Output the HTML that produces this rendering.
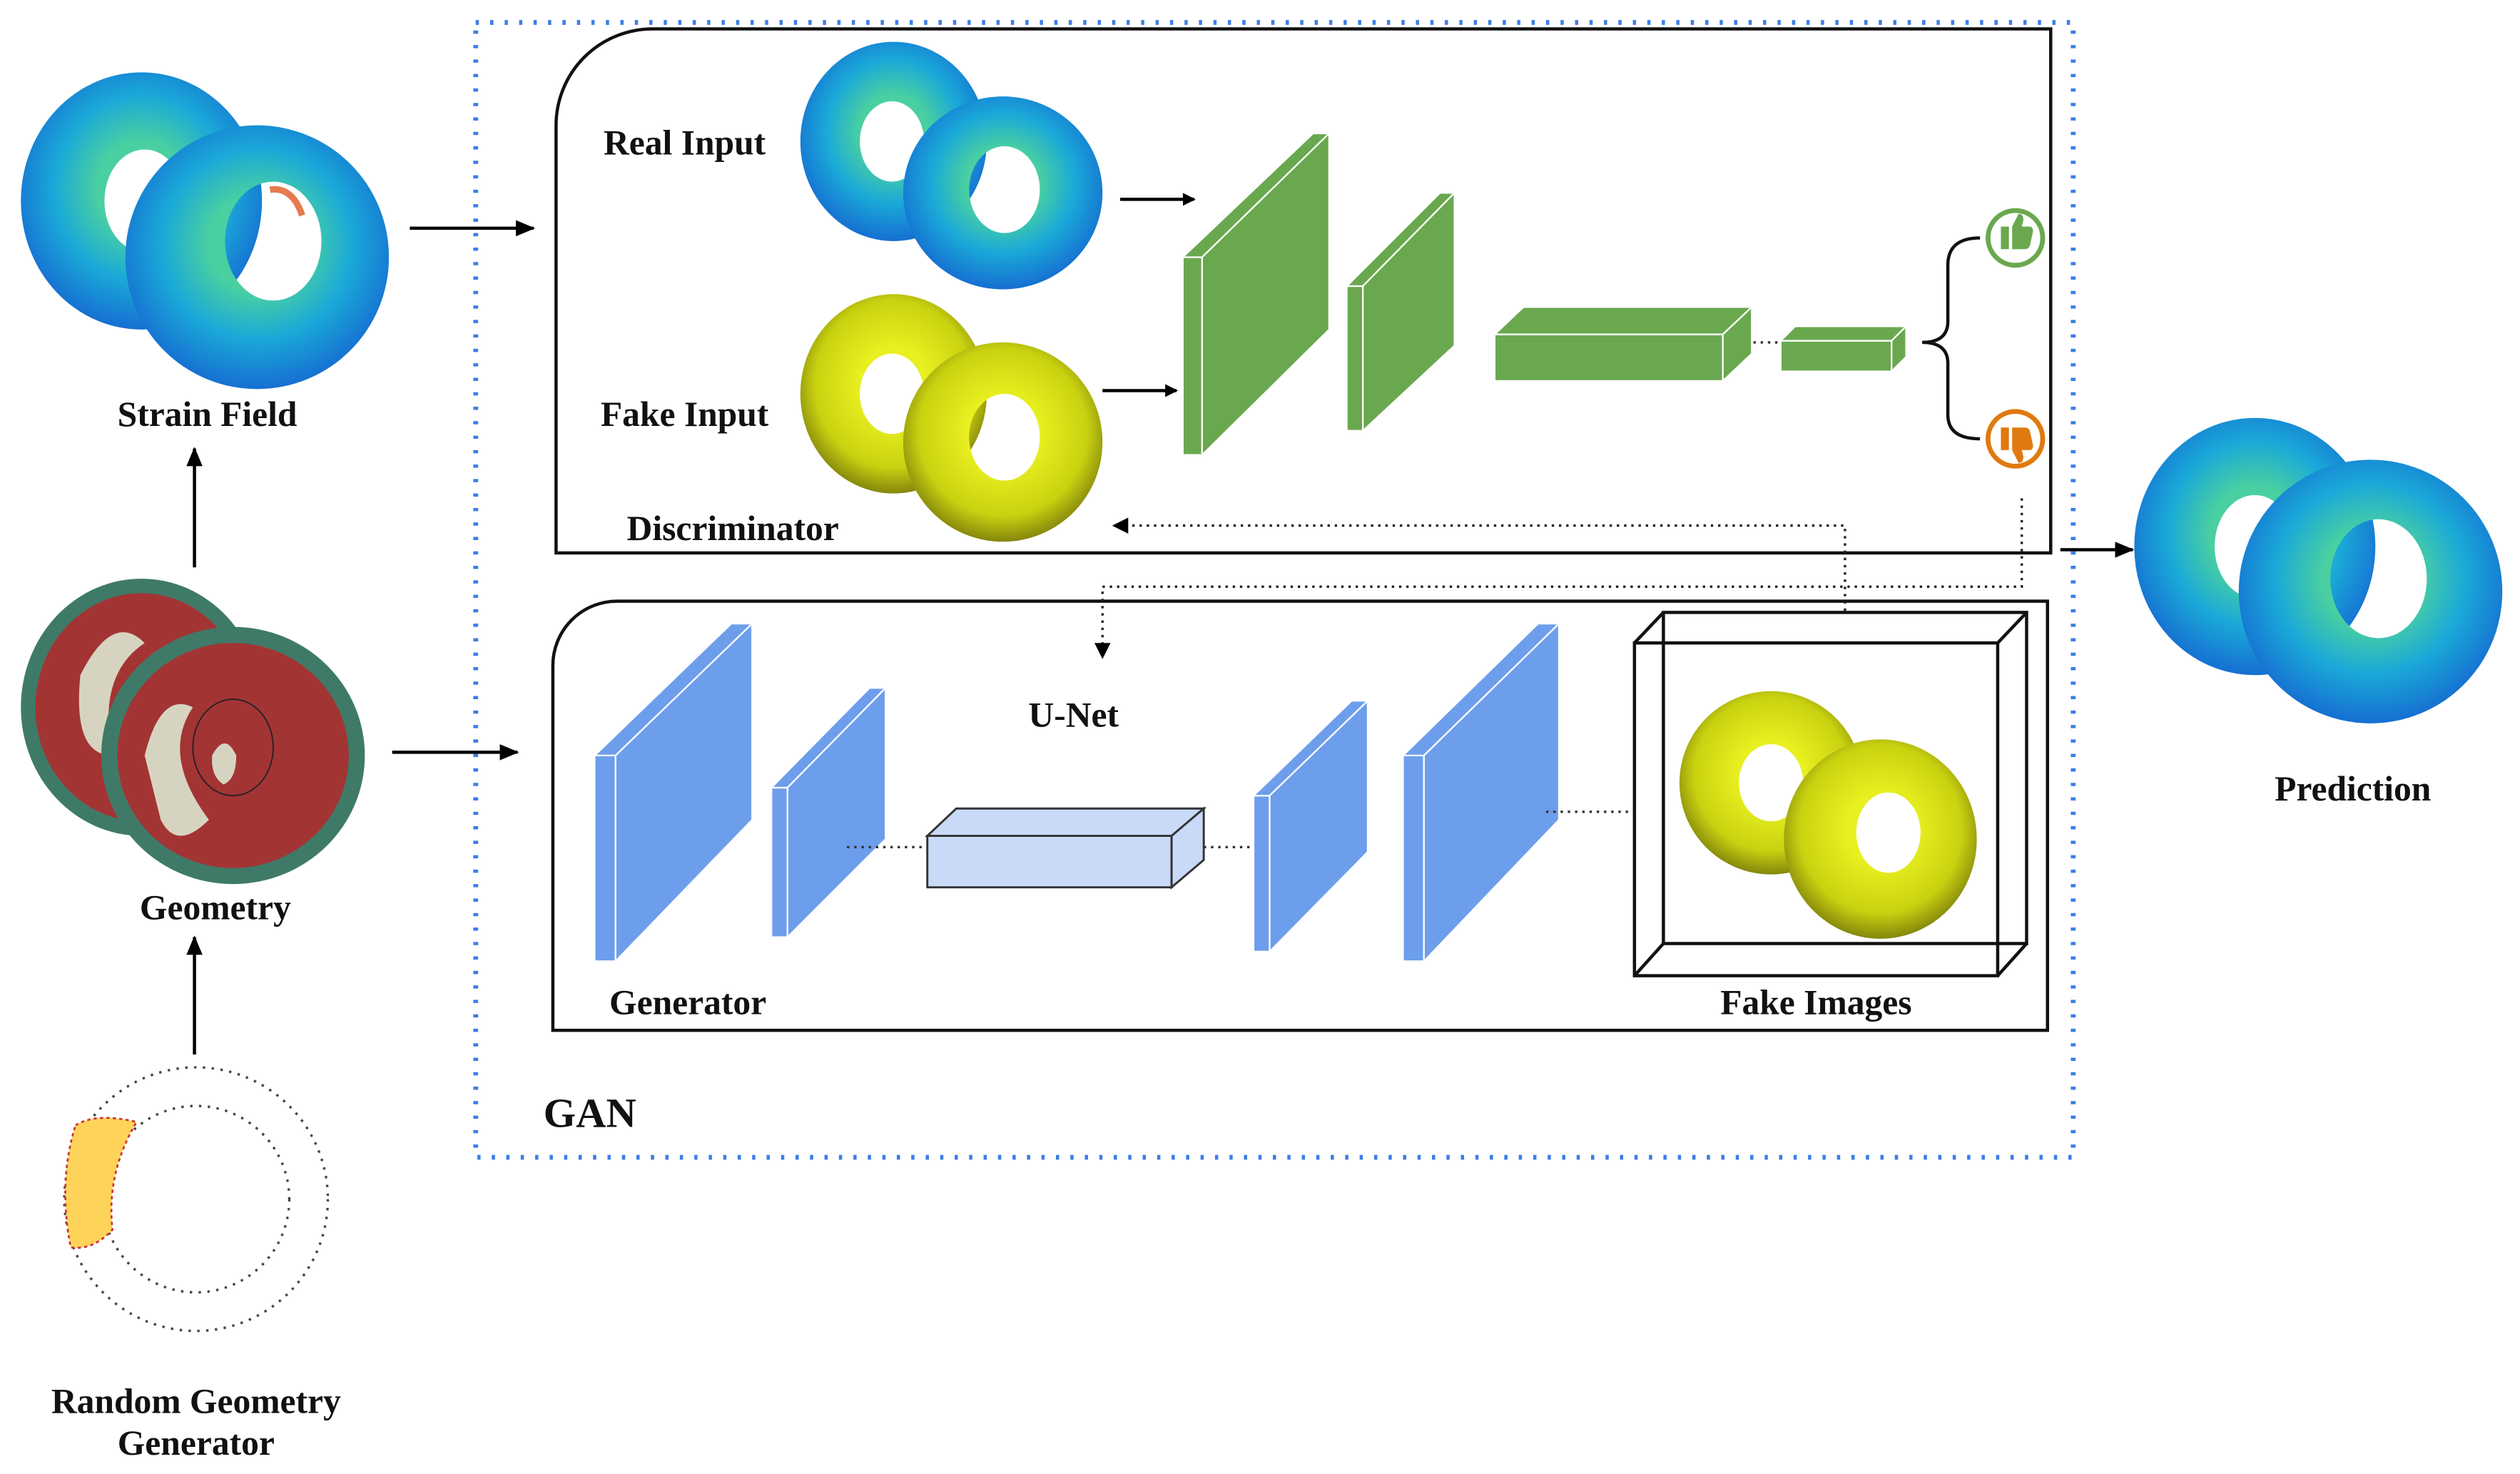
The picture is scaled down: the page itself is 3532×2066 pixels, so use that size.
<!DOCTYPE html>
<html><head><meta charset="utf-8"><style>html,body{margin:0;padding:0;background:#fff}svg{display:block}text{font-family:"Liberation Serif",serif;font-weight:bold;fill:#111}</style></head>
<body>
<svg width="3532" height="2066" viewBox="0 0 1568 917" preserveAspectRatio="none" xmlns="http://www.w3.org/2000/svg">
<defs>
<radialGradient id="bl" cx="0.5" cy="0.45" r="0.6"><stop offset="0.3" stop-color="#4ad0a0"/><stop offset="0.6" stop-color="#1aa9d8"/><stop offset="1" stop-color="#1560d0"/></radialGradient>
<radialGradient id="yl" cx="0.5" cy="0.45" r="0.6"><stop offset="0.3" stop-color="#e8f020"/><stop offset="0.7" stop-color="#c9d210"/><stop offset="1" stop-color="#6a6a0a"/></radialGradient>
<marker id="ah" markerWidth="8" markerHeight="8" refX="7" refY="4" orient="auto" markerUnits="userSpaceOnUse"><path d="M0,0 L8,4 L0,8 z" fill="#000"/></marker>
<marker id="ah2" markerWidth="12" markerHeight="12" refX="11" refY="6" orient="auto" markerUnits="userSpaceOnUse"><path d="M0,1 L12,6 L0,11 z" fill="#000"/></marker>
</defs>
<rect x="296" y="14" width="994" height="706" fill="none" stroke="#3b7de8" stroke-width="3" stroke-dasharray="2,7"/>
<path d="M406,18 H1276 V344 H346 V78 A60,60 0 0 1 406,18 Z" fill="none" stroke="#111" stroke-width="2"/>
<path d="M384,374 H1274 V641 H344 V414 A40,40 0 0 1 384,374 Z" fill="none" stroke="#111" stroke-width="2"/>

<g>
<path d="M13,125 a75,80 0 1,0 150,0 a75,80 0 1,0 -150,0 Z M65,125 a25,32 0 1,0 50,0 a25,32 0 1,0 -50,0 Z" fill="url(#bl)" fill-rule="evenodd"/>
<path d="M78,160 a82,82 0 1,0 164,0 a82,82 0 1,0 -164,0 Z M140,150 a30,37 0 1,0 60,0 a30,37 0 1,0 -60,0 Z" fill="url(#bl)" fill-rule="evenodd"/>
<path d="M168,118 q14,-2 20,16" stroke="#e05a20" stroke-width="4" fill="none" opacity="0.8"/>
</g>
<text x="129" y="265" font-size="22" text-anchor="middle">Strain Field</text>
<line x1="121" y1="353" x2="121" y2="279" stroke="#000" stroke-width="2" marker-end="url(#ah2)"/>

<g>
<path d="M13,440 a75,80 0 1,0 150,0 a75,80 0 1,0 -150,0 Z" fill="#3f7a68"/>
<path d="M22,440 a66,71 0 1,0 132,0 a66,71 0 1,0 -132,0 Z" fill="#a33434"/>
<path d="M50,420 q20,-40 40,-20 q-30,20 -20,70 q-25,0 -20,-50 Z" fill="#d6d4c0"/>
<path d="M63,470 a82,80 0 1,0 164,0 a82,80 0 1,0 -164,0 Z" fill="#3f7a68"/>
<path d="M73,470 a72,70 0 1,0 144,0 a72,70 0 1,0 -144,0 Z" fill="#a33434"/>
<path d="M90,470 q10,-40 30,-30 q-20,30 10,70 q-20,20 -30,0 Z" fill="#d6d4c0"/>
<path d="M120,465 a25,30 0 1,0 50,0 a25,30 0 1,0 -50,0 Z" fill="#a33434" stroke="#222" stroke-width="0.8"/>
<path d="M132,470 q8,-15 15,0 q0,15 -8,18 q-8,-5 -7,-18 Z" fill="#d6d4c0"/>
</g>
<text x="134" y="572" font-size="22" text-anchor="middle">Geometry</text>
<line x1="121" y1="656" x2="121" y2="583" stroke="#000" stroke-width="2" marker-end="url(#ah2)"/>

<circle cx="122" cy="746" r="82" fill="none" stroke="#444" stroke-width="1.5" stroke-dasharray="1.5,4"/>
<circle cx="122" cy="746" r="58" fill="none" stroke="#444" stroke-width="1.5" stroke-dasharray="1.5,4"/>
<path d="M47,700 Q60,692 85,698 Q66,730 70,765 Q58,778 44,776 Q36,735 47,700 Z" fill="#fdd35a" stroke="#c33" stroke-width="1.2" stroke-dasharray="2,2"/>
<text x="122" y="879" font-size="22" text-anchor="middle">Random Geometry</text>
<text x="122" y="905" font-size="22" text-anchor="middle">Generator</text>

<line x1="255" y1="142" x2="332" y2="142" stroke="#000" stroke-width="2" marker-end="url(#ah2)"/>
<line x1="244" y1="468" x2="322" y2="468" stroke="#000" stroke-width="2" marker-end="url(#ah2)"/>
<line x1="1282" y1="342" x2="1327" y2="342" stroke="#000" stroke-width="2" marker-end="url(#ah2)"/>

<path d="M1328,340 a75,80 0 1,0 150,0 a75,80 0 1,0 -150,0 Z M1378,340 a25,32 0 1,0 50,0 a25,32 0 1,0 -50,0 Z" fill="url(#bl)" fill-rule="evenodd"/>
<path d="M1393,368 a82,82 0 1,0 164,0 a82,82 0 1,0 -164,0 Z M1450,360 a30,37 0 1,0 60,0 a30,37 0 1,0 -60,0 Z" fill="url(#bl)" fill-rule="evenodd"/>
<text x="1464" y="498" font-size="22" text-anchor="middle">Prediction</text>

<text x="426" y="96" font-size="22" text-anchor="middle">Real Input</text>
<path d="M498,88 a58,62 0 1,0 116,0 a58,62 0 1,0 -116,0 Z M535,88 a20,25 0 1,0 40,0 a20,25 0 1,0 -40,0 Z" fill="url(#bl)" fill-rule="evenodd"/>
<path d="M562,120 a62,60 0 1,0 124,0 a62,60 0 1,0 -124,0 Z M603,118 a22,27 0 1,0 44,0 a22,27 0 1,0 -44,0 Z" fill="url(#bl)" fill-rule="evenodd"/>
<text x="426" y="265" font-size="22" text-anchor="middle">Fake Input</text>
<path d="M498,245 a58,62 0 1,0 116,0 a58,62 0 1,0 -116,0 Z M535,245 a20,25 0 1,0 40,0 a20,25 0 1,0 -40,0 Z" fill="url(#yl)" fill-rule="evenodd"/>
<path d="M562,275 a62,62 0 1,0 124,0 a62,62 0 1,0 -124,0 Z M603,272 a22,27 0 1,0 44,0 a22,27 0 1,0 -44,0 Z" fill="url(#yl)" fill-rule="evenodd"/>
<text x="456" y="336" font-size="22" text-anchor="middle">Discriminator</text>
<line x1="697" y1="124" x2="743" y2="124" stroke="#000" stroke-width="2" marker-end="url(#ah)"/>
<line x1="686" y1="243" x2="732" y2="243" stroke="#000" stroke-width="2" marker-end="url(#ah)"/>

<g fill="#6aa84f" stroke="#fff" stroke-width="1">
<polygon points="736,160 748,160 748,283 736,283"/>
<polygon points="736,160 817,83 827,83 748,160"/>
<polygon points="748,160 827,83 827,205 748,283"/>
<polygon points="838,178 848,178 848,268 838,268"/>
<polygon points="838,178 896,120 905,120 848,178"/>
<polygon points="848,178 905,120 905,215 848,268"/>
<polygon points="930,208 1072,208 1072,237 930,237"/>
<polygon points="930,208 948,191 1090,191 1072,208"/>
<polygon points="1072,208 1090,191 1090,220 1072,237"/>
<polygon points="1108,212 1177,212 1177,231 1108,231"/>
<polygon points="1108,212 1117,203 1186,203 1177,212"/>
<polygon points="1177,212 1186,203 1186,222 1177,231"/>
</g>
<line x1="1091" y1="213" x2="1108" y2="213" stroke="#333" stroke-width="1.5" stroke-dasharray="1.5,3"/>
<path d="M1232,148 Q1212,148 1212,165 L1212,200 Q1212,213 1196,213 Q1212,213 1212,226 L1212,258 Q1212,273 1232,273" fill="none" stroke="#111" stroke-width="2"/>
<circle cx="1254" cy="148" r="17" fill="#fff" stroke="#6aa84f" stroke-width="3"/>
<path d="M1245,141 h5 v14 h-5 z M1252,141 l4,-8 q3,0 3,4 l-1,4 h5 q2,0 2,3 l-2,9 q-1,2 -3,2 h-8 z" fill="#6aa84f"/>
<circle cx="1254" cy="273" r="17" fill="#fff" stroke="#e07a10" stroke-width="3"/>
<path d="M1245,266 h5 v14 h-5 z M1252,280 l4,8 q3,0 3,-4 l-1,-4 h5 q2,0 2,-3 l-2,-9 q-1,-2 -3,-2 h-8 z" fill="#e07a10"/>

<polyline points="1258,310 1258,365 686,365 686,406" fill="none" stroke="#222" stroke-width="1.5" stroke-dasharray="1.5,3"/>
<path d="M681,400 L686,410 L691,400 z" fill="#000"/>
<polyline points="1148,380 1148,327 700,327" fill="none" stroke="#222" stroke-width="1.5" stroke-dasharray="1.5,3"/>
<path d="M702,322 L692,327 L702,332 z" fill="#000"/>

<g fill="#6d9eeb" stroke="#fff" stroke-width="1">
<polygon points="370,470 383,470 383,598 370,598"/>
<polygon points="370,470 455,388 468,388 383,470"/>
<polygon points="383,470 468,388 468,510 383,598"/>
<polygon points="480,490 490,490 490,583 480,583"/>
<polygon points="480,490 541,428 551,428 490,490"/>
<polygon points="490,490 551,428 551,522 490,583"/>
<polygon points="780,495 790,495 790,592 780,592"/>
<polygon points="780,495 841,436 851,436 790,495"/>
<polygon points="790,495 851,436 851,530 790,592"/>
<polygon points="873,470 886,470 886,598 873,598"/>
<polygon points="873,470 957,388 970,388 886,470"/>
<polygon points="886,470 970,388 970,510 886,598"/>
</g>
<g fill="#c9daf8" stroke="#333" stroke-width="1.3">
<polygon points="577,520 729,520 729,552 577,552"/>
<polygon points="577,520 595,503 749,503 729,520"/>
<polygon points="729,520 749,503 749,535 729,552"/>
</g>
<g stroke="#333" stroke-width="1.5" stroke-dasharray="1.5,3">
<line x1="527" y1="527" x2="577" y2="527"/><line x1="749" y1="527" x2="780" y2="527"/><line x1="962" y1="505" x2="1017" y2="505"/>
</g>
<text x="668" y="452" font-size="22" text-anchor="middle">U-Net</text>
<text x="428" y="631" font-size="22" text-anchor="middle">Generator</text>
<text x="1130" y="631" font-size="22" text-anchor="middle">Fake Images</text>
<text x="367" y="701" font-size="26" text-anchor="middle">GAN</text>

<g fill="none" stroke="#111" stroke-width="2">
<rect x="1035" y="381" width="226" height="206"/>
<rect x="1017" y="400" width="226" height="207"/>
<line x1="1017" y1="400" x2="1035" y2="381"/><line x1="1243" y1="400" x2="1261" y2="381"/>
<line x1="1017" y1="607" x2="1035" y2="587"/><line x1="1243" y1="607" x2="1261" y2="587"/>
</g>
<path d="M1045,487 a57,57 0 1,0 114,0 a57,57 0 1,0 -114,0 Z M1082,487 a20,24 0 1,0 40,0 a20,24 0 1,0 -40,0 Z" fill="url(#yl)" fill-rule="evenodd"/>
<path d="M1110,522 a60,62 0 1,0 120,0 a60,62 0 1,0 -120,0 Z M1155,518 a20,25 0 1,0 40,0 a20,25 0 1,0 -40,0 Z" fill="url(#yl)" fill-rule="evenodd"/>
</svg>
</body></html>
